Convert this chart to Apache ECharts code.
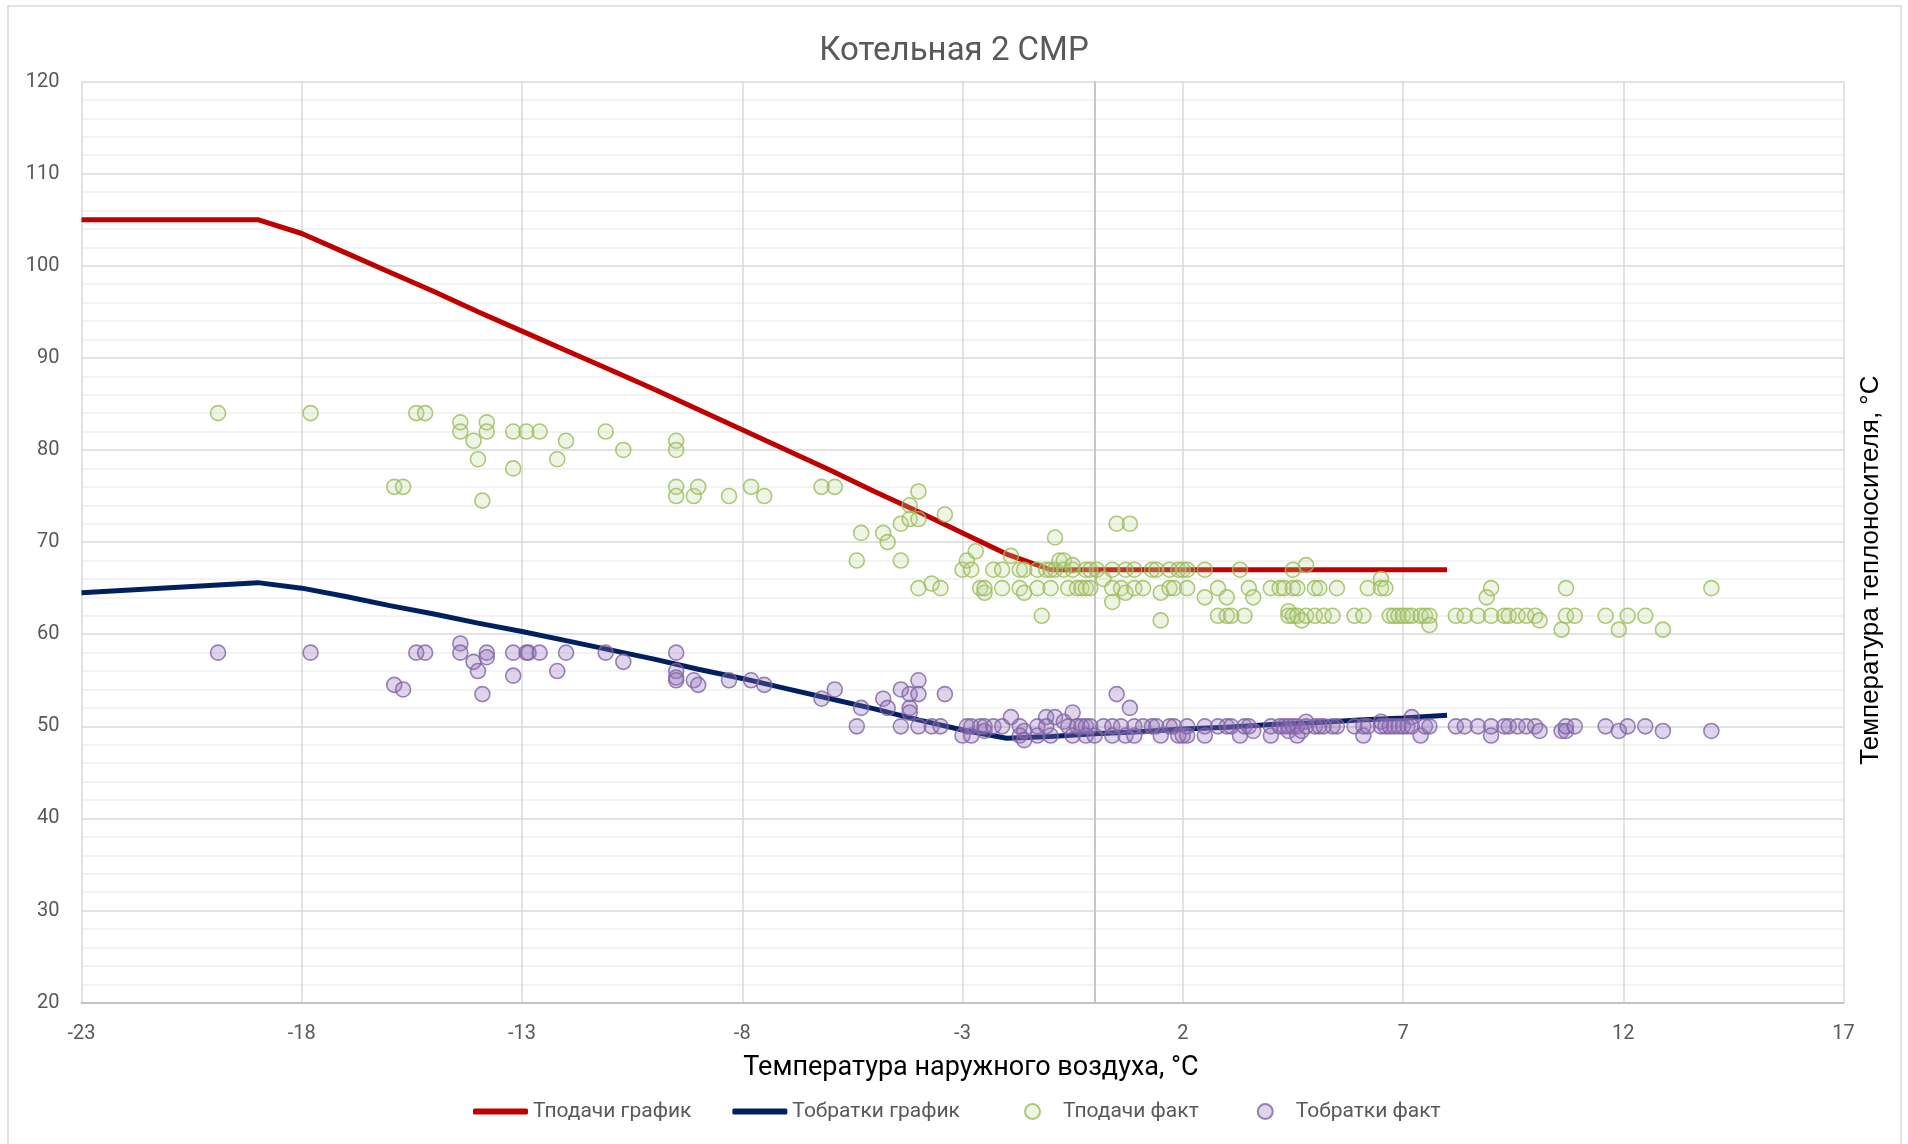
<!DOCTYPE html>
<html>
<head>
<meta charset="utf-8">
<title>Котельная 2 СМР</title>
<script src="https://cdn.jsdelivr.net/npm/echarts@6/dist/echarts.min.js"></script>
<style>
  html, body { margin: 0; padding: 0; background: #fff; }
  #chart { width: 1908px; height: 1144px; }
</style>
</head>
<body>
<div id="chart"></div>
<script>
// Temperature schedule of boiler house No. 2: outdoor temperature, supply and return
const scheduleT = [-23, -19, -18, -17, -16, -15, -14, -13, -12, -11, -10, -9, -8, -7, -6, -5, -4, -3, -2, -1, 0, 1, 2, 3, 4, 5, 6, 7, 8];
const scheduleSupply = [105, 105, 103.5, 101.4, 99.3, 97.2, 95.0, 92.9, 90.8, 88.7, 86.6, 84.4, 82.2, 80.0, 77.8, 75.5, 73.3, 71.0, 68.7, 67, 67, 67, 67, 67, 67, 67, 67, 67, 67];
const scheduleReturn = [64.5, 65.6, 65.0, 64.1, 63.1, 62.2, 61.2, 60.3, 59.3, 58.3, 57.3, 56.2, 55.2, 54.1, 53.0, 51.9, 50.7, 49.6, 48.7, 48.9, 49.2, 49.4, 49.7, 49.9, 50.2, 50.4, 50.7, 50.9, 51.2];

// Measured supply temperature: [outdoor t, supply t]
const supplyFact = [
  [-19.9, 84], [-17.8, 84], [-15.4, 84], [-15.2, 84], [-15.9, 76], [-15.7, 76],
  [-14.4, 83], [-14.4, 82], [-14.1, 81], [-14.0, 79], [-13.9, 74.5], [-13.8, 83], [-13.8, 82],
  [-13.2, 82], [-13.2, 78], [-12.9, 82], [-12.6, 82], [-12.2, 79], [-12.0, 81],
  [-11.1, 82], [-10.7, 80],
  [-9.5, 81], [-9.5, 80], [-9.5, 76], [-9.5, 75], [-9.1, 75], [-9.0, 76], [-8.3, 75], [-7.8, 76], [-7.5, 75],
  [-6.2, 76], [-5.9, 76], [-5.4, 68], [-5.3, 71], [-4.8, 71], [-4.7, 70], [-4.4, 72], [-4.4, 68],
  [-4.2, 74], [-4.2, 72.5], [-4.0, 75.5], [-4.0, 72.5], [-4.0, 65], [-3.7, 65.5], [-3.5, 65], [-3.4, 73],
  [-3.0, 67], [-2.9, 68], [-2.8, 67], [-2.7, 69], [-2.6, 65], [-2.5, 64.5], [-2.5, 65], [-2.3, 67],
  [-2.1, 67], [-2.1, 65], [-1.9, 68.5], [-1.7, 67], [-1.6, 67], [-1.7, 65], [-1.6, 64.5],
  [-1.3, 67], [-1.3, 65], [-1.2, 62], [-1.1, 67], [-1.0, 67], [-0.9, 67], [-1.0, 65], [-0.9, 70.5],
  [-0.8, 68], [-0.7, 68], [-0.7, 67], [-0.5, 67], [-0.5, 67.5], [-0.6, 65], [-0.4, 65], [-0.3, 65],
  [-0.2, 65], [-0.1, 65], [-0.2, 67], [-0.1, 67], [0.05, 67], [0.2, 66], [0.4, 67], [0.4, 65], [0.4, 63.5],
  [0.5, 72], [0.8, 72], [0.6, 65], [0.7, 64.5], [0.7, 67], [0.9, 67], [0.9, 65], [1.1, 65],
  [1.3, 67], [1.4, 67], [1.5, 64.5], [1.5, 61.5], [1.7, 65], [1.8, 65], [1.7, 67], [1.9, 67], [2.0, 67],
  [2.1, 67], [2.1, 65],
  [2.5, 67], [2.5, 64], [2.8, 65], [3.0, 64], [2.8, 62], [3.0, 62], [3.1, 62], [3.4, 62], [3.3, 67],
  [3.5, 65], [3.6, 64],
  [4.0, 65], [4.2, 65], [4.3, 65], [4.5, 65], [4.6, 65], [4.4, 62.5], [4.4, 62], [4.5, 62], [4.6, 62],
  [4.7, 61.5], [4.8, 62], [4.5, 67], [4.8, 67.5], [5.0, 65], [5.1, 65], [5.0, 62], [5.2, 62], [5.4, 62],
  [5.5, 65], [5.9, 62], [6.1, 62], [6.2, 65], [6.5, 66], [6.5, 65], [6.6, 65], [6.7, 62], [6.8, 62],
  [6.9, 62], [7.0, 62], [7.1, 62], [7.2, 62], [7.4, 62], [7.5, 62], [7.6, 62], [7.6, 61],
  [8.2, 62], [8.4, 62], [8.7, 62], [9.0, 62], [8.9, 64], [9.0, 65], [9.3, 62], [9.4, 62], [9.6, 62],
  [9.8, 62], [10.0, 62], [10.1, 61.5], [10.6, 60.5], [10.7, 65], [10.7, 62], [10.9, 62], [11.6, 62],
  [11.9, 60.5], [12.1, 62], [12.5, 62], [12.9, 60.5], [14.0, 65]
];

// Measured return temperature: [outdoor t, return t]
const returnFact = [
  [-19.9, 58], [-17.8, 58], [-15.4, 58], [-15.2, 58], [-15.9, 54.5], [-15.7, 54],
  [-14.4, 59], [-14.4, 58], [-14.1, 57], [-14.0, 56], [-13.9, 53.5], [-13.8, 58], [-13.8, 57.5],
  [-13.2, 58], [-13.2, 55.5], [-12.9, 58], [-12.85, 58], [-12.6, 58], [-12.2, 56], [-12.0, 58],
  [-11.1, 58], [-10.7, 57],
  [-9.5, 58], [-9.5, 56], [-9.5, 55.3], [-9.5, 55], [-9.1, 55], [-9.0, 54.5], [-8.3, 55], [-7.8, 55], [-7.5, 54.5],
  [-6.2, 53], [-5.9, 54], [-5.4, 50], [-5.3, 52], [-4.8, 53], [-4.7, 52], [-4.4, 54], [-4.4, 50],
  [-4.2, 53.5], [-4.2, 52], [-4.2, 51.5], [-4.0, 55], [-4.0, 53.5], [-4.0, 50], [-3.7, 50], [-3.5, 50], [-3.4, 53.5],
  [-3.0, 49], [-2.8, 49], [-2.9, 50], [-2.8, 50], [-2.6, 50], [-2.5, 49.5], [-2.5, 50], [-2.3, 50],
  [-2.1, 50], [-1.9, 51], [-1.7, 50], [-1.6, 49.5], [-1.7, 49], [-1.6, 48.5], [-1.3, 50], [-1.3, 49],
  [-1.1, 51], [-0.9, 51], [-1.0, 49], [-1.1, 50], [-0.7, 50.5], [-0.5, 51.5], [-0.6, 50], [-0.4, 50],
  [-0.3, 50], [-0.2, 50], [-0.1, 50], [-0.5, 49], [-0.2, 49], [0.0, 49], [0.2, 50], [0.4, 50], [0.4, 49],
  [0.5, 53.5], [0.8, 52], [0.6, 50], [0.7, 49], [0.9, 50], [0.9, 49], [1.1, 50], [1.3, 50], [1.4, 50],
  [1.5, 49], [1.7, 50], [1.8, 50], [1.9, 49], [2.0, 49], [2.1, 49], [2.1, 50],
  [2.5, 50], [2.5, 49], [2.8, 50], [3.0, 50], [3.1, 50], [3.3, 49], [3.4, 50], [3.5, 50], [3.6, 49.5],
  [4.0, 50], [4.0, 49], [4.2, 50], [4.3, 50], [4.4, 50], [4.4, 49.5], [4.5, 50], [4.6, 50], [4.6, 49],
  [4.7, 49.5], [4.8, 50.5], [4.8, 50], [5.0, 50], [5.1, 50], [5.2, 50], [5.4, 50], [5.5, 50],
  [5.9, 50], [6.1, 50], [6.1, 49], [6.2, 50], [6.5, 50.5], [6.5, 50], [6.6, 50], [6.7, 50], [6.8, 50],
  [6.9, 50], [7.0, 50], [7.1, 50], [7.2, 51], [7.2, 50], [7.4, 49], [7.5, 50], [7.6, 50],
  [8.2, 50], [8.4, 50], [8.7, 50], [9.0, 50], [9.0, 49], [9.3, 50], [9.4, 50], [9.6, 50], [9.8, 50],
  [10.0, 50], [10.1, 49.5], [10.6, 49.5], [10.7, 49.5], [10.7, 50], [10.9, 50], [11.6, 50], [11.9, 49.5],
  [12.1, 50], [12.5, 50], [12.9, 49.5], [14.0, 49.5]
];

const xTicks = { min: -23, max: 17, step: 5 };
const yTicks = { min: 20, max: 120, step: 10 };

const seriesNames = ['Тподачи график', 'Тобратки график', 'Тподачи факт', 'Тобратки факт'];

const uiFont = 'Roboto, "Noto Sans", sans-serif';
const labelColor = '#595959';

const chart = echarts.init(document.getElementById('chart'), null, { renderer: 'canvas' });

const zip = (xs, ys) => xs.map((x, i) => [x, ys[i]]);

chart.setOption({
  backgroundColor: '#ffffff',
  animation: false,
  title: {
    text: 'Котельная 2 СМР',
    left: 'center',
    top: 30,
    textStyle: { fontFamily: uiFont, fontSize: 33, fontWeight: 'normal', color: labelColor }
  },
  graphic: [{
    type: 'rect',
    shape: { x: 8, y: 6, width: 1893, height: 1160 },
    style: { fill: 'none', stroke: '#D9D9D9', lineWidth: 1.5 },
    silent: true,
    z: -10
  }],
  grid: { left: 81.5, right: 64.5, top: 81.5, bottom: 141.3, containLabel: false },
  legend: [{
    data: [seriesNames[0], seriesNames[1]],
    left: 468,
    top: 1096,
    icon: 'roundRect',
    itemWidth: 55,
    itemHeight: 6,
    itemGap: 41,
    textStyle: { fontFamily: uiFont, fontSize: 21, color: labelColor }
  }, {
    data: [seriesNames[2], seriesNames[3]],
    left: 1019,
    top: 1096,
    icon: 'circle',
    itemWidth: 15,
    itemHeight: 15,
    itemGap: 58,
    textStyle: { fontFamily: uiFont, fontSize: 21, color: labelColor, padding: [0, 0, 0, 18] }
  }],
  xAxis: {
    type: 'value',
    min: xTicks.min,
    max: xTicks.max,
    interval: xTicks.step,
    name: 'Температура наружного воздуха, °С',
    nameLocation: 'middle',
    nameGap: 52,
    nameTextStyle: { fontFamily: uiFont, fontSize: 27, color: '#000000', padding: [0, 0, 0, 17] },
    axisLine: { show: true, onZero: false, lineStyle: { color: '#C4C4C4', width: 2 } },
    axisTick: { show: false },
    axisLabel: { margin: 21, fontFamily: uiFont, fontSize: 20, color: labelColor },
    splitLine: { show: true, lineStyle: { color: '#D9D9D9', width: 1.5 } }
  },
  yAxis: [{
    type: 'value',
    min: yTicks.min,
    max: yTicks.max,
    interval: yTicks.step,
    axisLine: { show: true, lineStyle: { color: '#D9D9D9', width: 1.5 } },
    axisTick: { show: false },
    axisLabel: { margin: 22, fontFamily: uiFont, fontSize: 20, color: labelColor },
    splitLine: { show: true, lineStyle: { color: '#D9D9D9', width: 1.5 } },
    minorTick: { show: false, splitNumber: 5 },
    minorSplitLine: { show: true, lineStyle: { color: '#F0F0F0', width: 1.5 } }
  }, {
    type: 'value',
    position: 'right',
    min: yTicks.min,
    max: yTicks.max,
    name: 'Температура теплоносителя, °С',
    nameLocation: 'middle',
    nameRotate: 90,
    nameGap: 14,
    nameTextStyle: {
      fontFamily: '"Liberation Sans", Arial, sans-serif',
      fontSize: 26,
      color: '#000000',
      padding: [0, 56, 0, 0]
    },
    axisLine: { show: false },
    axisTick: { show: false },
    axisLabel: { show: false },
    splitLine: { show: false }
  }],
  series: [{
    name: seriesNames[0],
    type: 'line',
    data: zip(scheduleT, scheduleSupply),
    color: '#C00000',
    showSymbol: false,
    symbol: 'none',
    lineStyle: { color: '#C00000', width: 5 },
    markLine: {
      silent: true,
      symbol: 'none',
      label: { show: false },
      lineStyle: { color: '#BFBFBF', width: 1.5, type: 'solid' },
      data: [{ xAxis: 0 }],
      z: 1
    },
    z: 2
  }, {
    name: seriesNames[1],
    type: 'line',
    data: zip(scheduleT, scheduleReturn),
    color: '#002060',
    showSymbol: false,
    symbol: 'none',
    lineStyle: { color: '#002060', width: 5 },
    z: 2
  }, {
    name: seriesNames[2],
    type: 'scatter',
    data: supplyFact,
    symbol: 'circle',
    symbolSize: 15,
    itemStyle: { color: 'rgba(190, 215, 150, 0.3)', borderColor: '#9BBB59', borderWidth: 1.6 },
    z: 3
  }, {
    name: seriesNames[3],
    type: 'scatter',
    data: returnFact,
    symbol: 'circle',
    symbolSize: 15,
    itemStyle: { color: 'rgba(150, 115, 190, 0.38)', borderColor: '#8064A2', borderWidth: 1.6 },
    z: 3
  }]
});
</script>
</body>
</html>
